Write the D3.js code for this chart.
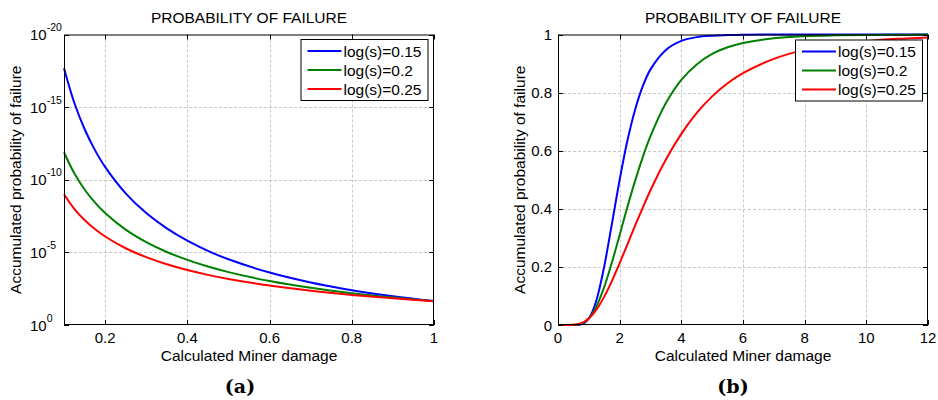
<!DOCTYPE html>
<html>
<head>
<meta charset="utf-8">
<script src="https://cdn.jsdelivr.net/npm/d3@7"></script>
<style>
  body { margin: 0; background: #fff; }
  svg { display: block; }
  text { font-family: "Liberation Sans", Arial, Helvetica, sans-serif; fill: #000; }
</style>
</head>
<body>
<svg id="chart" width="938" height="400"></svg>
<script>
// Series labels and colours (shared by both panels)
const seriesNames = ["log(s)=0.15", "log(s)=0.2", "log(s)=0.25"];
const seriesColors = ["#0000ff", "#008000", "#ff0000"];

// Panel (a): accumulated probability of failure for small damage (log axis)
const damageA = [0.1, 0.125, 0.15, 0.175, 0.2, 0.25, 0.3, 0.35, 0.4, 0.45, 0.5, 0.6, 0.7, 0.8, 0.9, 1.0];
const pfA_015 = [2.09e-18, 4.98e-16, 3.2e-14, 8.75e-13, 1.31e-11, 8.7e-10, 1.98e-8, 2.25e-7, 1.58e-6, 7.85e-6, 3.0e-5, 2.44e-4, 1.18e-3, 3.99e-3, 1.04e-2, 2.24e-2];
const pfA_020 = [1.28e-12, 3.62e-11, 4.69e-10, 3.63e-9, 1.95e-8, 2.72e-7, 1.97e-6, 9.36e-6, 3.30e-5, 9.5e-5, 2.28e-4, 9.4e-4, 2.77e-3, 6.50e-3, 1.29e-2, 2.28e-2];
const pfA_025 = [9.86e-10, 9.97e-9, 5.93e-8, 2.48e-7, 8.1e-7, 5.21e-6, 2.14e-5, 6.58e-5, 1.64e-4, 3.53e-4, 6.78e-4, 1.94e-3, 4.40e-3, 8.47e-3, 1.45e-2, 2.28e-2];

// Panel (b): accumulated probability of failure over the full damage range
const damageB = [0.1, 0.5, 0.7, 0.85, 1, 1.15, 1.3, 1.5, 1.75, 2, 2.25, 2.5, 2.75, 3, 3.5, 4, 4.5, 5, 5.5, 6, 7, 8, 9, 10, 11, 12];
const pfB_015 = [0, 0.00003, 0.0012, 0.0066, 0.0224, 0.0546, 0.106, 0.202, 0.349, 0.5, 0.634, 0.741, 0.822, 0.880, 0.947, 0.978, 0.991, 0.996, 0.998, 0.9993, 0.9999, 1, 1, 1, 1, 1];
const pfB_020 = [0, 0.00023, 0.0028, 0.0093, 0.0228, 0.0449, 0.0763, 0.131, 0.216, 0.310, 0.406, 0.496, 0.578, 0.650, 0.764, 0.844, 0.897, 0.933, 0.956, 0.971, 0.987, 0.994, 0.997, 0.9987, 0.9993, 0.9997];
const pfB_025 = [0, 0.00068, 0.0044, 0.0112, 0.0228, 0.0394, 0.0613, 0.0976, 0.152, 0.213, 0.277, 0.342, 0.404, 0.464, 0.570, 0.658, 0.730, 0.787, 0.832, 0.867, 0.916, 0.947, 0.965, 0.977, 0.985, 0.990];

// Tick values and labels
const xTicksA = [0.2, 0.4, 0.6, 0.8, 1];
const xTickLabelsA = ["0.2", "0.4", "0.6", "0.8", "1"];
const yTicksA = [1, 1e-5, 1e-10, 1e-15, 1e-20];
const yTickExpA = ["0", "-5", "-10", "-15", "-20"];
const xTicksB = [0, 2, 4, 6, 8, 10, 12];
const xTickLabelsB = ["0", "2", "4", "6", "8", "10", "12"];
const yTicksB = [0, 0.2, 0.4, 0.6, 0.8, 1];
const yTickLabelsB = ["0", "0.2", "0.4", "0.6", "0.8", "1"];

const titleText = "PROBABILITY OF FAILURE";
const xLabelText = "Calculated Miner damage";
const yLabelText = "Accumulated probability of failure";

const svg = d3.select("#chart");

function drawPanel(p) {
  const g = svg.append("g");
  const { x, y, left, right, top, bottom } = p;

  // dashed grid
  g.append("g").selectAll("line")
    .data(p.xTicks.filter(v => x(v) > left + 1 && x(v) < right - 1))
    .join("line")
    .attr("x1", d => Math.round(x(d)) + 0.5).attr("x2", d => Math.round(x(d)) + 0.5)
    .attr("y1", top).attr("y2", bottom)
    .attr("stroke", "#c8c8c8").attr("stroke-width", 1).attr("stroke-dasharray", "3,2");
  g.append("g").selectAll("line")
    .data(p.yTicks.filter(v => y(v) > top + 1 && y(v) < bottom - 1))
    .join("line")
    .attr("y1", d => Math.round(y(d)) + 0.5).attr("y2", d => Math.round(y(d)) + 0.5)
    .attr("x1", left).attr("x2", right)
    .attr("stroke", "#c8c8c8").attr("stroke-width", 1).attr("stroke-dasharray", "3,2");

  // curves
  const line = d3.line()
    .x(d => x(d[0])).y(d => y(d[1]))
    .curve(d3.curveCatmullRom.alpha(0.5));
  p.series.forEach((vals, i) => {
    g.append("path")
      .datum(p.xs.map((v, j) => [v, vals[j]]))
      .attr("d", line)
      .attr("fill", "none")
      .attr("stroke", seriesColors[i])
      .attr("stroke-width", 2)
      .attr("stroke-linejoin", "round");
  });

  // inward ticks on all four sides
  const tl = 5;
  const ax = g.append("g").attr("stroke", "#000").attr("stroke-width", 1);
  p.xTicks.forEach(v => {
    const px = Math.round(x(v)) + 0.5;
    ax.append("line").attr("x1", px).attr("x2", px).attr("y1", bottom).attr("y2", bottom - tl);
    ax.append("line").attr("x1", px).attr("x2", px).attr("y1", top).attr("y2", top + tl);
  });
  p.yTicks.forEach(v => {
    const py = Math.round(y(v)) + 0.5;
    ax.append("line").attr("y1", py).attr("y2", py).attr("x1", left).attr("x2", left + tl);
    ax.append("line").attr("y1", py).attr("y2", py).attr("x1", right).attr("x2", right - tl);
  });

  // frame
  g.append("rect")
    .attr("x", left + 0.5).attr("y", top + 0.5)
    .attr("width", right - left - 1).attr("height", bottom - top - 1)
    .attr("fill", "none").attr("stroke", "#000").attr("stroke-width", 1);

  // x tick labels
  g.append("g").selectAll("text")
    .data(p.xTicks)
    .join("text")
    .attr("x", d => x(d)).attr("y", bottom + 18)
    .attr("text-anchor", "middle")
    .style("font-size", "15px")
    .text((d, i) => p.xTickLabels[i]);

  // y tick labels
  p.yTickLabel(g);

  // title and axis labels
  g.append("text")
    .attr("x", (left + right) / 2).attr("y", top - 12)
    .attr("text-anchor", "middle").style("font-size", "15.5px")
    .text(titleText);
  g.append("text")
    .attr("x", (left + right) / 2).attr("y", bottom + 36)
    .attr("text-anchor", "middle").style("font-size", "15.5px")
    .text(xLabelText);
  g.append("text")
    .attr("transform", `translate(${p.yLabelX},${(top + bottom) / 2}) rotate(-90)`)
    .attr("text-anchor", "middle").style("font-size", "15.5px")
    .text(yLabelText);

  // legend
  const lg = g.append("g").attr("transform", `translate(${p.legendX},${p.legendY})`);
  lg.append("rect")
    .attr("x", 0.5).attr("y", 0.5).attr("width", 127).attr("height", 61)
    .attr("fill", "#fff").attr("stroke", "#000").attr("stroke-width", 1);
  seriesNames.forEach((name, i) => {
    const ry = 12 + i * 19;
    lg.append("line")
      .attr("x1", 7).attr("x2", 41).attr("y1", ry).attr("y2", ry)
      .attr("stroke", seriesColors[i]).attr("stroke-width", 2);
    lg.append("text")
      .attr("x", 43).attr("y", ry + 5.5)
      .style("font-size", "15.5px")
      .text(name);
  });

  // panel caption
  g.append("text")
    .attr("x", p.captionX).attr("y", 393)
    .attr("text-anchor", "middle")
    .style("font-family", "'DejaVu Serif', 'Liberation Serif', serif")
    .style("font-weight", "bold")
    .style("font-size", "19px")
    .text(p.caption);
}

// Panel (a)
{
  const left = 64, right = 434, top = 34.5, bottom = 325;
  const x = d3.scaleLinear().domain([0.1, 1]).range([left, right]);
  const y = d3.scaleLog().domain([1, 1e-20]).range([bottom, top]);
  drawPanel({
    x, y, left, right, top, bottom,
    xs: damageA, series: [pfA_015, pfA_020, pfA_025],
    xTicks: xTicksA, xTickLabels: xTickLabelsA, yTicks: yTicksA,
    yTickLabel: g => {
      const t = g.append("g").selectAll("text")
        .data(yTicksA)
        .join("text")
        .attr("x", 30).attr("y", d => y(d) + 5.5)
        .style("font-size", "15px");
      t.append("tspan").text("10");
      t.append("tspan").attr("dy", -9).style("font-size", "10.5px")
        .text((d, i) => yTickExpA[i]);
    },
    yLabelX: 21,
    legendX: 300.5, legendY: 39,
    caption: "(a)", captionX: 240
  });
}

// Panel (b)
{
  const left = 558, right = 928, top = 34.5, bottom = 325;
  const x = d3.scaleLinear().domain([0, 12]).range([left, right]);
  const y = d3.scaleLinear().domain([0, 1]).range([bottom, top]);
  drawPanel({
    x, y, left, right, top, bottom,
    xs: damageB, series: [pfB_015, pfB_020, pfB_025],
    xTicks: xTicksB, xTickLabels: xTickLabelsB, yTicks: yTicksB,
    yTickLabel: g => {
      g.append("g").selectAll("text")
        .data(yTicksB)
        .join("text")
        .attr("x", left - 6).attr("y", d => y(d) + 5.5)
        .attr("text-anchor", "end")
        .style("font-size", "15px")
        .text((d, i) => yTickLabelsB[i]);
    },
    yLabelX: 525,
    legendX: 795, legendY: 39.5,
    caption: "(b)", captionX: 733
  });
}
</script>
</body>
</html>
